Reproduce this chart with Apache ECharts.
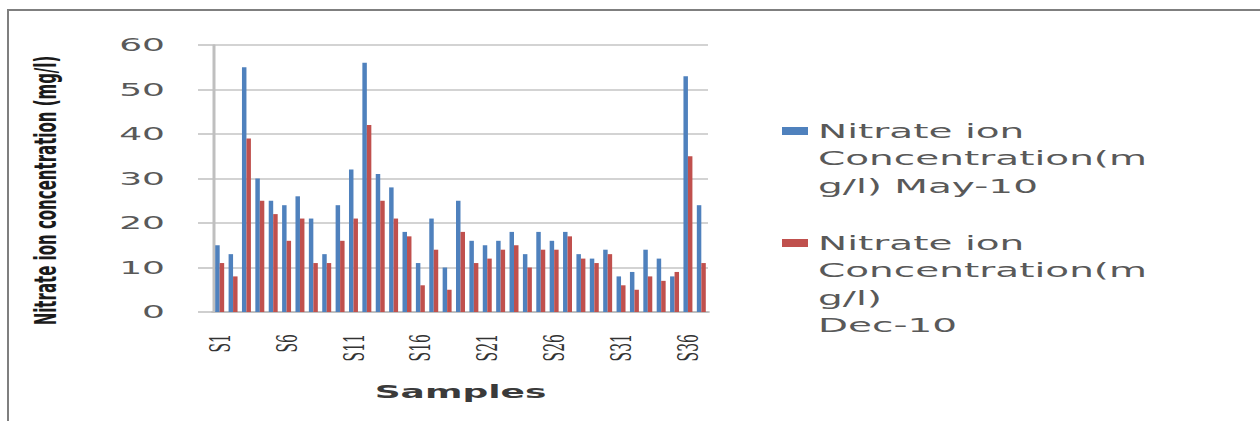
<!DOCTYPE html>
<html>
<head>
<meta charset="utf-8">
<title>Nitrate ion concentration</title>
<script src="https://cdn.jsdelivr.net/npm/echarts@6/dist/echarts.min.js"></script>
<style>
  html, body { margin: 0; padding: 0; background: #fff; width: 1260px; height: 421px; overflow: hidden; }
  #frame { position: absolute; left: 7px; top: 9px; right: 0; bottom: 0;
           border-top: 2px solid #7f7f7f; border-left: 2px solid #7f7f7f; }
  /* the chart is laid out on a 630px canvas and widened 2x, like the wide-set figure */
  #chart { position: absolute; left: 0; top: 0; width: 630px; height: 421px;
           transform: scaleX(2); transform-origin: 0 0; }
</style>
</head>
<body>
<div id="frame"></div>
<div id="chart"></div>
<script>
// Sample stations
const samples = ['S1','S2','S3','S4','S5','S6','S7','S8','S9','S10',
                 'S11','S12','S13','S14','S15','S16','S17','S18','S19','S20',
                 'S21','S22','S23','S24','S25','S26','S27','S28','S29','S30',
                 'S31','S32','S33','S34','S35','S36','S37'];

// Nitrate ion concentration (mg/l), May 2010
const may10 = [15, 13, 55, 30, 25, 24, 26, 21, 13, 24,
               32, 56, 31, 28, 18, 11, 21, 10, 25, 16,
               15, 16, 18, 13, 18, 16, 18, 13, 12, 14,
               8, 9, 14, 12, 8, 53, 24];

// Nitrate ion concentration (mg/l), December 2010
const dec10 = [11, 8, 39, 25, 22, 16, 21, 11, 11, 16,
               21, 42, 25, 21, 17, 6, 14, 5, 18, 11,
               12, 14, 15, 10, 14, 14, 17, 12, 11, 13,
               6, 5, 8, 7, 9, 35, 11];

const seriesNames = ['Nitrate ion Concentration(mg/l) May-10',
                     'Nitrate ion Concentration(mg/l) Dec-10'];
// legend text, broken the way the legend box wraps it
const legendLines = {
  'Nitrate ion Concentration(mg/l) May-10': ['Nitrate ion', 'Concentration(m', 'g/l) May-10'],
  'Nitrate ion Concentration(mg/l) Dec-10': ['Nitrate ion', 'Concentration(m', 'g/l)', 'Dec-10']
};

const yTicks = { min: 0, max: 60, interval: 10 };

const colors = ['#4F81BD', '#C0504D'];
const gridColor = '#c4c4c4';
const textGray = '#595959';
const LH = 27.5;

// Legend text is centred on its swatch; blank lines above the wrapped
// name keep the swatch level with the first line.
function legendFor(name, swatchY) {
  const n = legendLines[name].length;
  return {
    data: [name],
    orient: 'vertical',
    left: 391,
    top: swatchY - (2 * n - 1) * LH / 2,
    padding: 0,
    itemWidth: 13,
    itemHeight: 8,
    itemGap: 0,
    icon: 'rect',
    formatter: (nm) => '\n'.repeat(n - 1) + legendLines[nm].join('\n'),
    textStyle: {
      fontFamily: 'DejaVu Sans',
      fontSize: 19.5,
      color: textGray,
      lineHeight: LH
    }
  };
}

const chart = echarts.init(document.getElementById('chart'), null, { renderer: 'svg' });

chart.setOption({
  animation: false,
  color: colors,
  grid: { left: 106.5, right: 276, top: 45, bottom: 109, containLabel: false },
  legend: [
    legendFor(seriesNames[0], 131),
    legendFor(seriesNames[1], 243)
  ],
  xAxis: {
    type: 'category',
    data: samples,
    name: 'Samples',
    nameLocation: 'middle',
    nameGap: 71,
    nameTextStyle: { fontFamily: 'DejaVu Sans', fontWeight: 'bold', fontSize: 18, color: '#3a3a3a' },
    axisLine: { show: true, lineStyle: { color: '#bfbfbf', width: 2 } },
    axisTick: { show: false },
    axisLabel: {
      interval: 4,
      rotate: 90,
      margin: 22,
      fontFamily: 'DejaVu Serif',
      fontSize: 14,
      color: '#333'
    },
    splitLine: { show: false }
  },
  yAxis: {
    type: 'value',
    min: yTicks.min,
    max: yTicks.max,
    interval: yTicks.interval,
    name: 'Nitrate ion concentration (mg/l)',
    nameLocation: 'middle',
    nameGap: 76,
    nameRotate: 90,
    nameTextStyle: {
      fontFamily: 'DejaVu Sans',
      fontWeight: 'bold',
      fontSize: 15,
      color: '#1a1a1a',
      padding: [0, 24, 0, 0]
    },
    axisLine: { show: true, lineStyle: { color: '#bfbfbf', width: 1.5 } },
    axisTick: { show: true, inside: false, length: 7.5, lineStyle: { color: '#bfbfbf', width: 1.5 } },
    axisLabel: { margin: 24, fontFamily: 'DejaVu Sans', fontSize: 18, color: textGray },
    splitLine: { show: true, lineStyle: { color: gridColor, width: 1.5 } }
  },
  series: [
    { name: seriesNames[0], type: 'bar', data: may10, barGap: '0%', barCategoryGap: '33%' },
    { name: seriesNames[1], type: 'bar', data: dec10, barGap: '0%', barCategoryGap: '33%' }
  ]
});
</script>
</body>
</html>
